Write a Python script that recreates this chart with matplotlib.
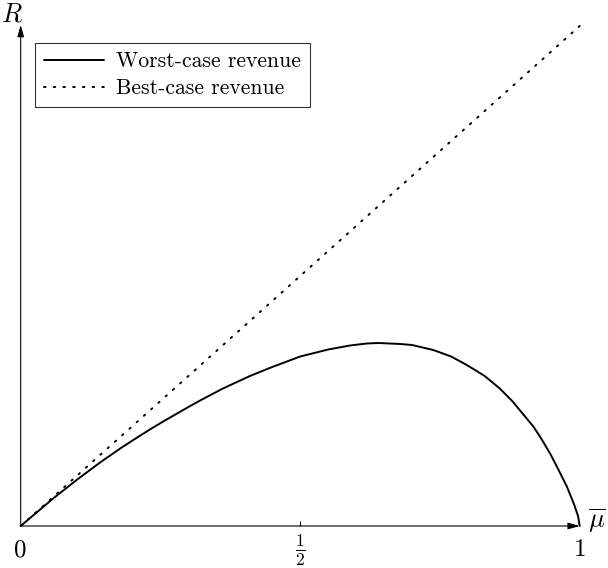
import matplotlib
matplotlib.use("Agg")
import matplotlib.pyplot as plt

plt.rcParams["font.family"] = "cmr10"
plt.rcParams["mathtext.fontset"] = "cm"
plt.rcParams["axes.unicode_minus"] = False

# mean value and revenue
mu_worst = [0.0, 0.058, 0.1, 0.142, 0.178, 0.2, 0.231, 0.258, 0.3, 0.321, 0.36, 0.41,
            0.45, 0.5, 0.55, 0.589, 0.619, 0.64, 0.679, 0.7, 0.738, 0.77, 0.798,
            0.83, 0.857, 0.88, 0.917, 0.93, 0.947, 0.96, 0.977, 0.99, 0.997, 1.0]
r_worst = [0.0, 0.055, 0.092, 0.127, 0.155, 0.171, 0.193, 0.211, 0.238, 0.251, 0.274, 0.300,
           0.318, 0.339, 0.353, 0.361, 0.365, 0.366, 0.364, 0.362, 0.352, 0.339, 0.322,
           0.300, 0.275, 0.249, 0.199, 0.177, 0.145, 0.117, 0.079, 0.043, 0.020, 0.0]
mu_best = [0.0, 1.0]
r_best = [0.0, 1.0]

xtick_pos = [0, 0.5, 1]
xtick_labels = ["0", r"$\frac{1}{2}$", "1"]

fig = plt.figure(figsize=(6.08, 5.68), dpi=100)
ax = fig.add_axes([0, 0, 1, 1])
ax.set_xlim(-0.037, 1.0506)
ax.set_ylim(-0.084, 1.052)
ax.axis("off")

ax.plot(mu_worst, r_worst, color="black", lw=1.4, label="Worst-case revenue",
        solid_joinstyle="round", solid_capstyle="round")
ax.plot(mu_best, r_best, color="black", lw=1.4, linestyle=(0, (0.8, 4.2)),
        dash_capstyle="round", label="Best-case revenue")

# axes with arrow heads
arrow = dict(arrowstyle="-|>,head_length=0.7,head_width=0.2", color="black",
             lw=0.8, shrinkA=0, shrinkB=0, mutation_scale=10)
ax.annotate("", xy=(1.0, 0), xytext=(0, 0), arrowprops=arrow)
ax.annotate("", xy=(0, 1.002), xytext=(0, 0), arrowprops=arrow)

ax.vlines(xtick_pos[1:-1], 0, 0.011, color="black", lw=0.8)
for x, lab in zip(xtick_pos, xtick_labels):
    ax.text(x, -0.048, lab, ha="center", va="center", fontsize=18)

ax.text(-0.0156, 1.022, "$R$", ha="center", va="center", fontsize=19)
ax.text(1.031, 0.01, r"$\overline{\mu}$", ha="center", va="center", fontsize=19)

leg = ax.legend(loc="upper left", bbox_to_anchor=(35 / 608, 1 - 43 / 568),
                bbox_transform=fig.transFigure, borderaxespad=0, fontsize=15.6,
                frameon=True, fancybox=False, handlelength=2.8, handletextpad=0.55,
                labelspacing=0.35, borderpad=0.4)
leg.get_frame().set_edgecolor("black")
leg.get_frame().set_linewidth(0.8)

fig.savefig("out.png", dpi=100)
